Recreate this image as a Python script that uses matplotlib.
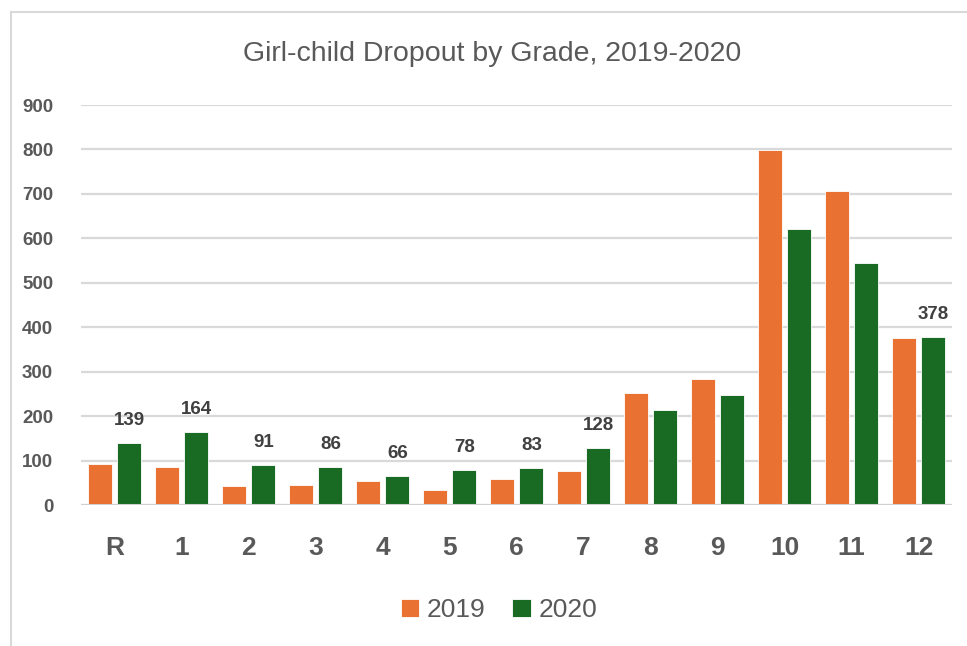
import matplotlib
matplotlib.use("Agg")
import matplotlib.pyplot as plt
from matplotlib.lines import Line2D
import numpy as np

grades = ["R", "1", "2", "3", "4", "5", "6", "7", "8", "9", "10", "11", "12"]
dropout_2019 = [92, 85, 43, 46, 53, 34, 59, 77, 251, 284, 798, 706, 376]
dropout_2020 = [139, 164, 91, 86, 66, 78, 83, 128, 213, 248, 622, 544, 378]
labelled_2020 = ["R", "1", "2", "3", "4", "5", "6", "7", "12"]
yticks = [0, 100, 200, 300, 400, 500, 600, 700, 800, 900]
series_labels = ["2019", "2020"]
title = "Girl-child Dropout by Grade, 2019-2020"

ORANGE = "#E97132"
GREEN = "#196B24"
GRID = "#D9D9D9"
TXT = "#595959"
LBL = "#404040"

W, H = 967, 646
fig = plt.figure(figsize=(W / 100, H / 100), dpi=100)
fig.patch.set_facecolor("white")

ax = fig.add_axes([81 / W, (H - 505) / H, (952 - 81) / W, (505 - 105) / H])
x = np.arange(len(grades))
bw = 0.355
off = 0.222
b1 = ax.bar(x - off, dropout_2019, bw, color=ORANGE, edgecolor="white", linewidth=0.6, label=series_labels[0], zorder=3)
b2 = ax.bar(x + off, dropout_2020, bw, color=GREEN, edgecolor="white", linewidth=0.6, label=series_labels[1], zorder=3)

for g, rect, v in zip(grades, b2, dropout_2020):
    if g not in labelled_2020:
        continue
    ax.annotate(f"{v}", (rect.get_x() + rect.get_width() / 2, v), xytext=(0, 14),
                textcoords="offset pixels", ha="center", va="bottom",
                fontsize=13.5, fontweight="bold", color=LBL, family="Liberation Sans")

ax.set_xlim(-0.5, len(grades) - 0.5)
ax.set_ylim(0, 900)
ax.set_yticks(yticks)
ax.set_yticklabels([str(t) for t in yticks], fontsize=13.5, fontweight="bold", color=TXT, family="Liberation Sans")
ax.set_xticks(x)
ax.set_xticklabels(grades, fontsize=19, fontweight="bold", color=TXT, family="Liberation Sans")
ax.tick_params(axis="both", length=0)
ax.tick_params(axis="y", pad=20)
ax.tick_params(axis="x", pad=22)
for s in ax.spines.values():
    s.set_visible(False)
ax.yaxis.grid(True, color=GRID, linewidth=1.6, zorder=0)
ax.axhline(0, color="#D0D0D0", linewidth=2.2, zorder=4)
ax.set_axisbelow(True)

fig.text(492 / W, 1 - 61 / H, title, ha="center", va="baseline", fontsize=20.5,
         color=TXT, family="Liberation Sans")

leg = fig.legend(handles=[b1, b2], labels=series_labels, loc="center",
                 bbox_to_anchor=(499 / W, 1 - 610 / H), ncol=2, frameon=False,
                 prop={"family": "Liberation Sans", "size": 19},
                 handlelength=0.7, handleheight=0.7, handletextpad=0.3, columnspacing=1.0)
for t in leg.get_texts():
    t.set_color(TXT)

# outer chart frame
fig.add_artist(Line2D([10.5 / W, 10.5 / W], [0, 1 - 12 / H], transform=fig.transFigure, color=GRID, linewidth=1.5))
fig.add_artist(Line2D([10.5 / W, 1], [1 - 12 / H, 1 - 12 / H], transform=fig.transFigure, color=GRID, linewidth=1.5))

fig.savefig("out.png", dpi=100, facecolor="white")
